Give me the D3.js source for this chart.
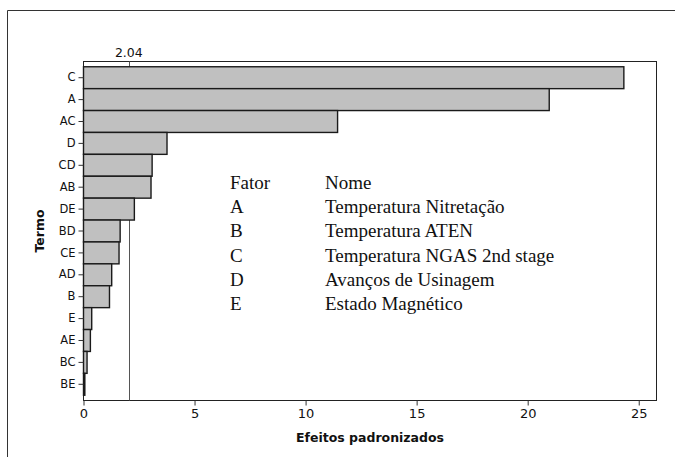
<!DOCTYPE html>
<html>
<head>
<meta charset="utf-8">
<script src="https://cdn.jsdelivr.net/npm/d3@7"></script>
<style>
  html, body { margin: 0; padding: 0; background: #fff; }
  svg { display: block; }
</style>
</head>
<body>
<svg id="chart" width="675" height="457"></svg>
<script>
// Pareto of standardized effects
const terms = ["C", "A", "AC", "D", "CD", "AB", "DE", "BD", "CE", "AD", "B", "E", "AE", "BC", "BE"];
const effects = [24.33, 20.97, 11.44, 3.76, 3.09, 3.04, 2.29, 1.65, 1.60, 1.27, 1.17, 0.37, 0.31, 0.16, 0.06];
const xTicks = [0, 5, 10, 15, 20, 25];
const criticalValue = 2.04;
const factorCodes = ["A", "B", "C", "D", "E"];
const factorNames = ["Temperatura Nitretação", "Temperatura ATEN", "Temperatura NGAS 2nd stage", "Avanços de Usinagem", "Estado Magnético"];

const svg = d3.select("#chart");
const plot = { left: 83.5, right: 656.5, top: 61.5, bottom: 400.5 };

// Outer frame (only left and top edges are in view)
svg.append("path")
  .attr("d", "M7.5,457 L7.5,10.5 L675,10.5")
  .attr("fill", "none").attr("stroke", "#333").attr("stroke-width", 1);

const x = d3.scaleLinear().domain([0, 25.8]).range([plot.left, plot.right]);
const y = d3.scaleBand().domain(terms).range([plot.top, plot.bottom]).paddingInner(0).paddingOuter(0.24);

// Plot frame
svg.append("rect")
  .attr("x", plot.left).attr("y", plot.top)
  .attr("width", plot.right - plot.left).attr("height", plot.bottom - plot.top)
  .attr("fill", "none").attr("stroke", "#222").attr("stroke-width", 1);

// Reference line at the critical value
svg.append("line")
  .attr("x1", Math.round(x(criticalValue)) + 0.5).attr("x2", Math.round(x(criticalValue)) + 0.5)
  .attr("y1", plot.top).attr("y2", plot.bottom)
  .attr("stroke", "#555").attr("stroke-width", 1);

svg.append("text")
  .attr("x", x(criticalValue)).attr("y", 57)
  .attr("text-anchor", "middle")
  .attr("font-family", "DejaVu Sans, sans-serif").attr("font-size", 12.5)
  .attr("fill", "#111")
  .text(criticalValue.toFixed(2));

// Bars
svg.append("g").selectAll("rect")
  .data(terms)
  .join("rect")
  .attr("x", x(0))
  .attr("y", d => y(d))
  .attr("width", (d, i) => x(effects[i]) - x(0))
  .attr("height", y.bandwidth())
  .attr("fill", "#c0c0c0")
  .attr("stroke", "#1a1a1a")
  .attr("stroke-width", 1.4);

// Y axis
const yAxis = svg.append("g")
  .attr("transform", `translate(${plot.left},0)`)
  .call(d3.axisLeft(y).tickSize(5).tickPadding(3));
yAxis.select(".domain").remove();
yAxis.selectAll(".tick line").attr("stroke", "#333");
yAxis.selectAll("text")
  .attr("font-family", "DejaVu Sans, sans-serif").attr("font-size", 11.5).attr("fill", "#111");

// X axis
const xAxis = svg.append("g")
  .attr("transform", `translate(0,${plot.bottom})`)
  .call(d3.axisBottom(x).tickValues(xTicks).tickSize(5).tickPadding(3));
xAxis.select(".domain").remove();
xAxis.selectAll(".tick line").attr("stroke", "#333");
xAxis.selectAll("text")
  .attr("font-family", "DejaVu Sans, sans-serif").attr("font-size", 13).attr("fill", "#111");

// Axis titles
svg.append("text")
  .attr("x", (plot.left + plot.right) / 2).attr("y", 442)
  .attr("text-anchor", "middle")
  .attr("font-family", "DejaVu Sans, sans-serif").attr("font-size", 12.5).attr("font-weight", "bold")
  .attr("fill", "#111")
  .text("Efeitos padronizados");

svg.append("text")
  .attr("transform", `translate(44,${(plot.top + plot.bottom) / 2}) rotate(-90)`)
  .attr("text-anchor", "middle")
  .attr("font-family", "DejaVu Sans, sans-serif").attr("font-size", 12.5).attr("font-weight", "bold")
  .attr("fill", "#111")
  .text("Termo");

// Factor legend
const legend = svg.append("g")
  .attr("font-family", "Liberation Serif, Times New Roman, serif")
  .attr("font-size", 19).attr("fill", "#111");
const rowY = i => 189 + i * 24.2;
legend.append("text").attr("x", 230).attr("y", rowY(0)).text("Fator");
legend.append("text").attr("x", 325).attr("y", rowY(0)).text("Nome");
factorCodes.forEach((c, i) => {
  legend.append("text").attr("x", 230).attr("y", rowY(i + 1)).text(c);
  legend.append("text").attr("x", 325).attr("y", rowY(i + 1)).text(factorNames[i]);
});
</script>
</body>
</html>
